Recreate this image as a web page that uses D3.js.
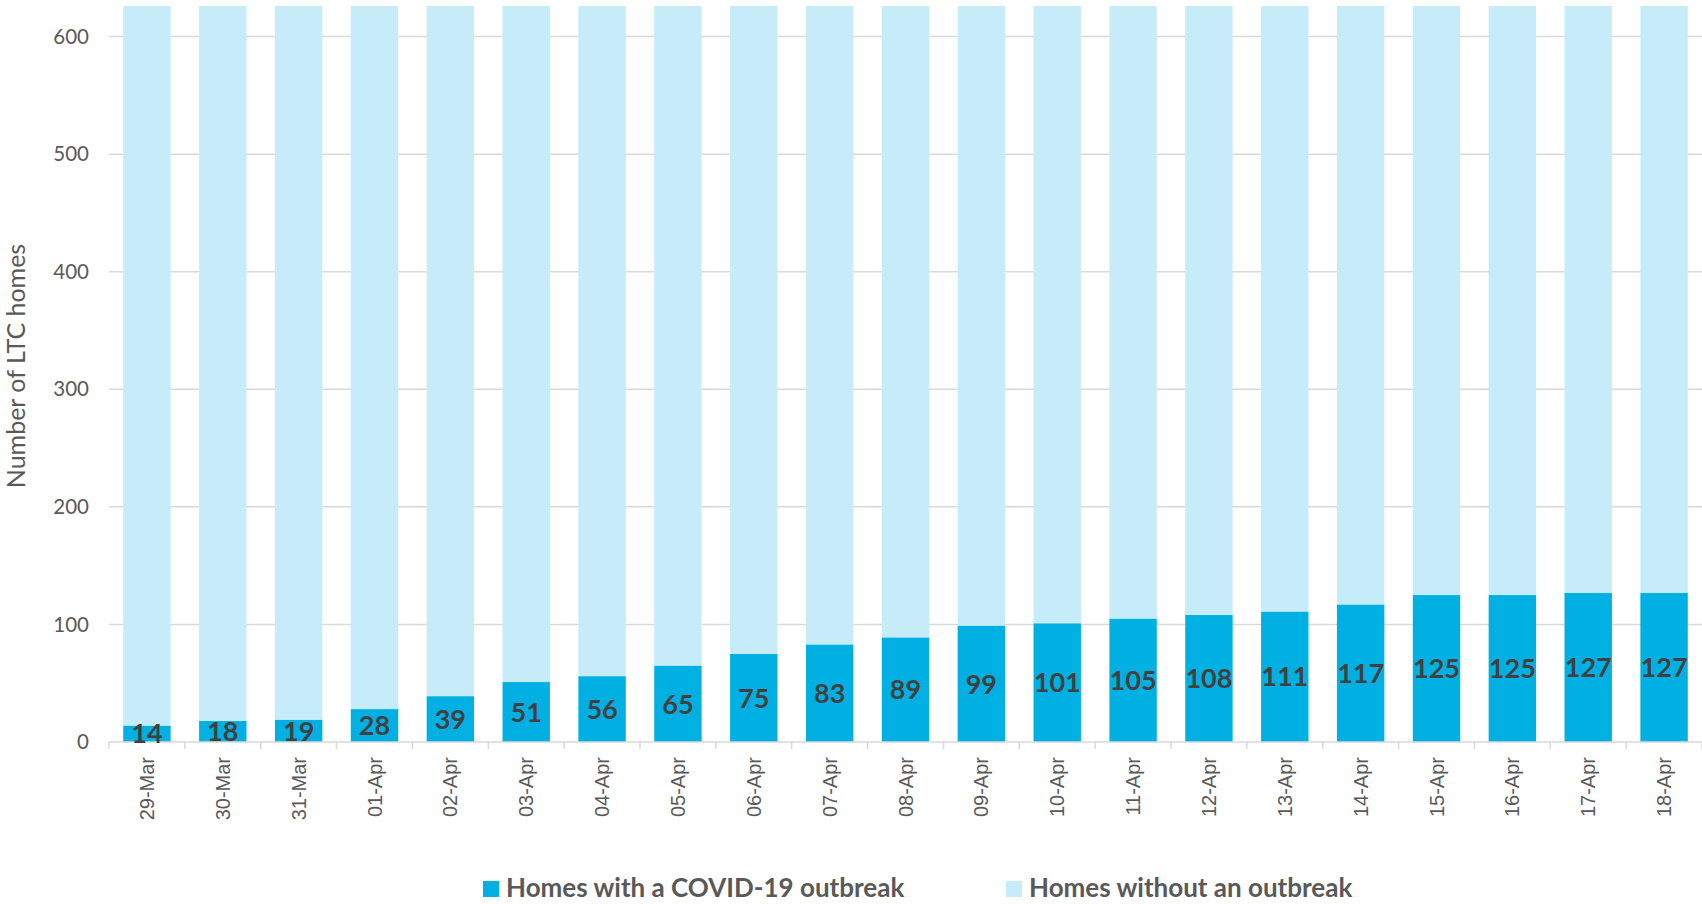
<!DOCTYPE html>
<html>
<head>
<meta charset="utf-8">
<script src="https://cdn.jsdelivr.net/npm/d3@7"></script>
<style>
  body { margin: 0; background: #fff; }
  svg { display: block; }
</style>
</head>
<body>
<div id="chart"></div>
<script>
const dates = ["29-Mar", "30-Mar", "31-Mar", "01-Apr", "02-Apr", "03-Apr", "04-Apr", "05-Apr", "06-Apr", "07-Apr",
  "08-Apr", "09-Apr", "10-Apr", "11-Apr", "12-Apr", "13-Apr", "14-Apr", "15-Apr", "16-Apr", "17-Apr", "18-Apr"];
const withOutbreak = [14, 18, 19, 28, 39, 51, 56, 65, 75, 83, 89, 99, 101, 105, 108, 111, 117, 125, 125, 127, 127];
const totalHomes = 626;
const withoutOutbreak = withOutbreak.map(v => totalHomes - v);
const yTicks = [0, 100, 200, 300, 400, 500, 600];
const seriesNames = ["Homes with a COVID-19 outbreak", "Homes without an outbreak"];
const seriesColors = ["#00b0e3", "#c6ecfa"];

const width = 1702, height = 904;
const margin = { top: 6, right: 0, bottom: 162, left: 109 };

const svg = d3.select("#chart").append("svg")
    .attr("width", width)
    .attr("height", height);

const x = d3.scaleBand()
    .domain(dates)
    .range([margin.left, width - margin.right])
    .paddingInner(0.375)
    .paddingOuter(0.1875);

const y = d3.scaleLinear()
    .domain([0, totalHomes])
    .range([height - margin.bottom, margin.top]);

const rows = dates.map((d, i) => ({ date: d, a: withOutbreak[i], b: withoutOutbreak[i] }));
const stack = d3.stack().keys(["a", "b"])(rows);

// Gridlines
svg.append("g")
    .selectAll("line")
    .data(yTicks.filter(t => t > 0))
    .join("line")
    .attr("x1", margin.left)
    .attr("x2", width - margin.right)
    .attr("y1", d => y(d))
    .attr("y2", d => y(d))
    .attr("stroke", "#d9d9d9")
    .attr("stroke-width", 1.5);

// Y labels
svg.append("g")
    .selectAll("text")
    .data(yTicks)
    .join("text")
    .attr("x", 89)
    .attr("y", d => y(d))
    .attr("dy", "0.35em")
    .attr("text-anchor", "end")
    .attr("font-family", "Lato, 'Open Sans', sans-serif")
    .attr("font-size", 20.5)
    .attr("fill", "#595959")
    .text(d => d);

// Bars
svg.append("g")
    .selectAll("g")
    .data(stack)
    .join("g")
    .attr("fill", (d, i) => seriesColors[i])
    .selectAll("rect")
    .data(d => d)
    .join("rect")
    .attr("x", d => x(d.data.date))
    .attr("width", x.bandwidth())
    .attr("y", d => y(d[1]))
    .attr("height", d => y(d[0]) - y(d[1]));

// X axis line and ticks
const step = x.step();
const boundaries = dates.map(d => x(d) - step * x.paddingInner() / 2).concat([width - margin.right]);
svg.append("line")
    .attr("x1", margin.left)
    .attr("x2", width - margin.right)
    .attr("y1", y(0))
    .attr("y2", y(0))
    .attr("stroke", "#d9d9d9")
    .attr("stroke-width", 1.5);
svg.append("g")
    .selectAll("line")
    .data(boundaries)
    .join("line")
    .attr("x1", d => d)
    .attr("x2", d => d)
    .attr("y1", y(0))
    .attr("y2", y(0) + 7)
    .attr("stroke", "#d9d9d9")
    .attr("stroke-width", 1.5);

// X labels
svg.append("g")
    .selectAll("text")
    .data(dates)
    .join("text")
    .attr("transform", d => `translate(${x(d) + x.bandwidth() / 2},${y(0) + 15}) rotate(-90)`)
    .attr("dy", "0.35em")
    .attr("text-anchor", "end")
    .attr("font-family", "'Liberation Sans', Arial, sans-serif")
    .attr("font-size", 20)
    .attr("fill", "#595959")
    .text(d => d);

// Value labels
svg.append("g")
    .selectAll("text")
    .data(stack[0])
    .join("text")
    .attr("x", d => x(d.data.date) + x.bandwidth() / 2)
    .attr("y", d => y((d[0] + d[1]) / 2))
    .attr("dy", "0.36em")
    .attr("text-anchor", "middle")
    .attr("font-family", "Lato, 'Open Sans', sans-serif")
    .attr("font-weight", "bold")
    .attr("font-size", 27)
    .attr("fill", "#404040")
    .text(d => d.data.a);

// Y axis title
svg.append("text")
    .attr("transform", `translate(25,366) rotate(-90)`)
    .attr("text-anchor", "middle")
    .attr("font-family", "Lato, 'Open Sans', sans-serif")
    .attr("font-size", 25)
    .attr("fill", "#595959")
    .text("Number of LTC homes");

// Legend
const legendX = [483, 1006];
const legend = svg.append("g")
    .selectAll("g")
    .data(seriesNames)
    .join("g")
    .attr("transform", (d, i) => `translate(${legendX[i]},881)`);
legend.append("rect")
    .attr("width", 16)
    .attr("height", 16)
    .attr("fill", (d, i) => seriesColors[i]);
legend.append("text")
    .attr("x", 23)
    .attr("y", 16)
    .attr("font-family", "Lato, 'Open Sans', sans-serif")
    .attr("font-weight", "bold")
    .attr("font-size", 26)
    .attr("fill", "#595959")
    .text(d => d);
</script>
</body>
</html>
